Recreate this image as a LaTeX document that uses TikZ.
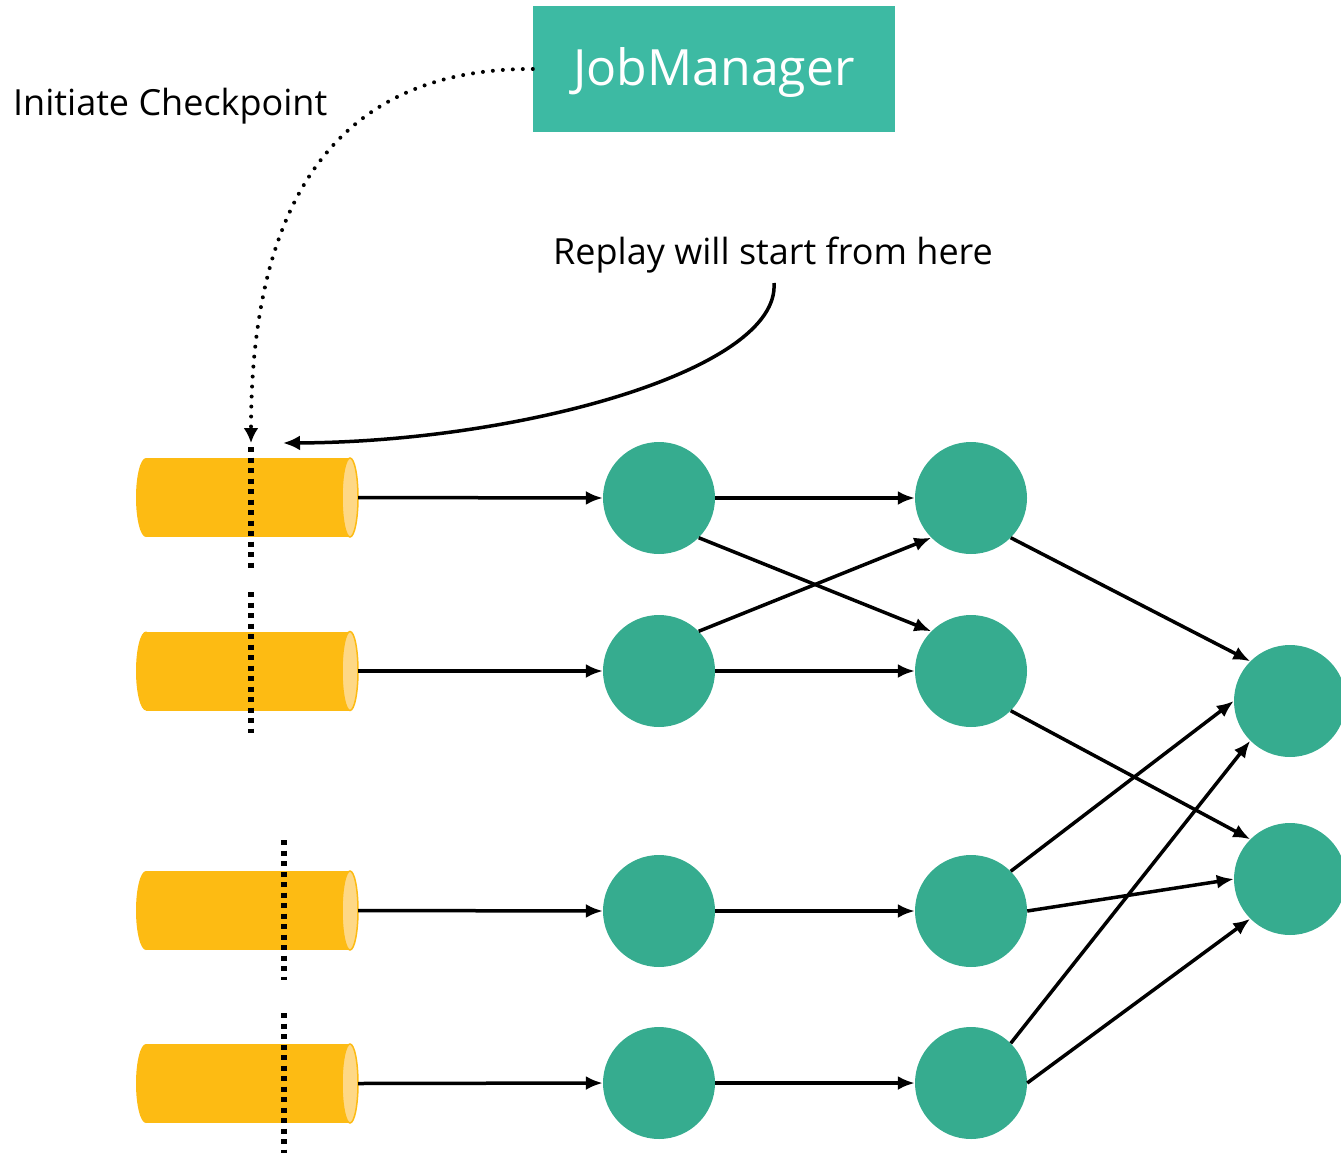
\documentclass[tikz,border=0pt]{standalone}
\usepackage{fontspec}
\setmainfont{Open Sans}
\usetikzlibrary{arrows.meta}
\definecolor{jmgreen}{RGB}{61,186,163}
\definecolor{opgreen}{RGB}{54,172,143}
\definecolor{qbody}{RGB}{253,187,19}
\definecolor{qcap}{RGB}{254,216,134}
\tikzset{
  op/.style={circle, fill=opgreen, minimum size=112pt, inner sep=0pt},
  flow/.style={line width=3.5pt, -{Latex[length=17pt,width=14pt]}},
  barrier/.style={line width=5.5pt, dash pattern=on 5pt off 5.5pt},
  label/.style={font=\fontsize{36}{43}\selectfont, inner sep=0pt},
}
% a queue drawn as a horizontal cylinder; #1 = centre y, #2 = name of its outlet
\newcommand{\logqueue}[2]{%
  \fill[qbody] (146,#1) ellipse[x radius=10, y radius=39.5];
  \fill[qbody] (146,#1-39.5) rectangle (350,#1+39.5);
  \filldraw[fill=qcap, draw=qbody, line width=1.5pt] (350,#1) ellipse[x radius=8, y radius=39.5];
  \coordinate (#2) at (358,#1);
}
\begin{document}
\begin{tikzpicture}[x=1pt, y=-1pt]
\useasboundingbox (0,0) rectangle (1341,1153);

% JobManager
\node[fill=jmgreen, minimum width=362pt, minimum height=126pt, inner sep=0pt,
      text height=36pt, text depth=2pt,
      text=white, font=\fontsize{50}{60}\selectfont] (jm) at (714,69) {JobManager};

% source queues
\logqueue{497.5}{q1}
\logqueue{671}{q2}
\logqueue{910.5}{q3}
\logqueue{1083.5}{q4}

% operators
\node[op] (a1) at (659,498) {};
\node[op] (a2) at (659,671) {};
\node[op] (a3) at (659,911) {};
\node[op] (a4) at (659,1083) {};
\node[op] (b1) at (971,498) {};
\node[op] (b2) at (971,671) {};
\node[op] (b3) at (971,911) {};
\node[op] (b4) at (971,1083) {};
\node[op] (c1) at (1290,701) {};
\node[op] (c2) at (1290,879) {};

% checkpoint barriers
\coordinate (bar1) at (251,443);
\draw[barrier] (251,447) -- (251,568);
\draw[barrier] (251,592) -- (251,733);
\draw[barrier] (284,840) -- (284,980);
\draw[barrier] (284,1013) -- (284,1153);

% data flow
\draw[flow] (q1) -- (a1.west);
\draw[flow] (q2) -- (a2.west);
\draw[flow] (q3) -- (a3.west);
\draw[flow] (q4) -- (a4.west);
\draw[flow] (a1.east) -- (b1.west);
\draw[flow] (a1.-45) -- (b2.135);
\draw[flow] (a2.45) -- (b1.-135);
\draw[flow] (a2.east) -- (b2.west);
\draw[flow] (a3.east) -- (b3.west);
\draw[flow] (a4.east) -- (b4.west);
\draw[flow] (b1.-45) -- (c1.135);
\draw[flow] (b2.-45) -- (c2.135);
\draw[flow] (b3.45) -- (c1.west);
\draw[flow] (b3.east) -- (c2.west);
\draw[flow] (b4.45) -- (c1.-135);
\draw[flow] (b4.east) -- (c2.-135);

% labels
\node[label, anchor=base west] (init) at (13,116) {Initiate Checkpoint};
\node[label, anchor=base west] (replay) at (553,264) {Replay will start from here};

% checkpoint trigger
\draw[line width=4pt, dash pattern=on 0pt off 10pt, line cap=round,
      -{Latex[length=15pt,width=15pt]}]
  (jm.west) .. controls (345,68) and (251,190) .. (bar1);

% replay pointer
\coordinate (rp) at (283,443);
\draw[line width=3.5pt, -{Latex[length=17pt,width=15pt]}]
  (774,283) .. controls (780,370) and (520,442) .. (rp);
\end{tikzpicture}
\end{document}
